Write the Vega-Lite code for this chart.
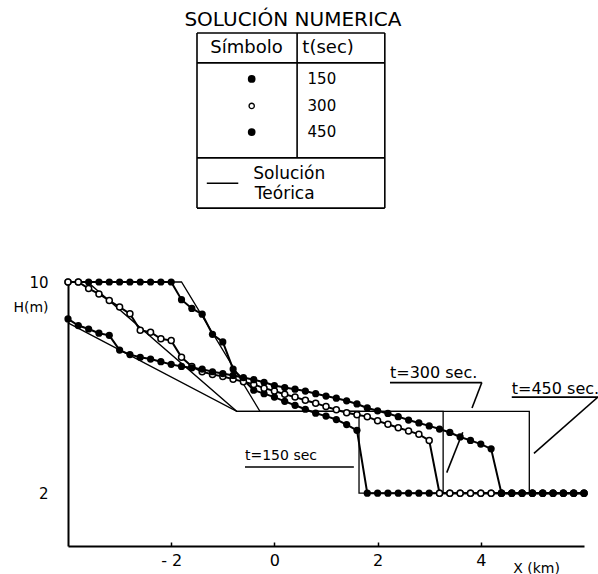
{
  "$schema": "https://vega.github.io/schema/vega-lite/v6.json",
  "width": 516,
  "height": 264,
  "autosize": {"type": "none"},
  "padding": {"left": 68, "top": 282, "right": 14, "bottom": 28},
  "background": "white",
  "config": {
    "view": {"stroke": null},
    "font": "DejaVu Sans",
    "axis": {
      "grid": false,
      "domainColor": "black",
      "domainWidth": 2,
      "tickColor": "black",
      "tickWidth": 1.5,
      "tickSize": -4,
      "labelColor": "black",
      "labelFont": "DejaVu Sans",
      "titleFont": "DejaVu Sans",
      "titleColor": "black",
      "titleFontWeight": "normal"
    },
    "text": {"font": "DejaVu Sans", "color": "black"}
  },
  "datasets": {
    "num": [
      {"t":150,"x":-4.0,"h":10},{"t":150,"x":-3.8,"h":10},{"t":150,"x":-3.6,"h":10},{"t":150,"x":-3.4,"h":10},{"t":150,"x":-3.2,"h":10},
      {"t":150,"x":-3.0,"h":10},{"t":150,"x":-2.8,"h":10},{"t":150,"x":-2.6,"h":10},{"t":150,"x":-2.4,"h":10},{"t":150,"x":-2.2,"h":10},
      {"t":150,"x":-2.0,"h":10},{"t":150,"x":-1.8,"h":9.33},{"t":150,"x":-1.6,"h":9.0},{"t":150,"x":-1.4,"h":8.78},{"t":150,"x":-1.2,"h":8.02},
      {"t":150,"x":-1.0,"h":7.73},{"t":150,"x":-0.8,"h":6.7},{"t":150,"x":-0.6,"h":6.3},{"t":150,"x":-0.4,"h":5.9},{"t":150,"x":-0.2,"h":5.77},
      {"t":150,"x":0.0,"h":5.64},{"t":150,"x":0.2,"h":5.48},{"t":150,"x":0.4,"h":5.33},{"t":150,"x":0.6,"h":5.18},{"t":150,"x":0.8,"h":5.03},
      {"t":150,"x":1.0,"h":4.92},{"t":150,"x":1.2,"h":4.79},{"t":150,"x":1.4,"h":4.6},{"t":150,"x":1.6,"h":4.38},{"t":150,"x":1.8,"h":2},
      {"t":150,"x":2.0,"h":2},{"t":150,"x":2.2,"h":2},{"t":150,"x":2.4,"h":2},{"t":150,"x":2.6,"h":2},{"t":150,"x":2.8,"h":2},
      {"t":150,"x":3.0,"h":2},{"t":150,"x":3.2,"h":2},{"t":150,"x":3.4,"h":2},{"t":150,"x":3.6,"h":2},{"t":150,"x":3.8,"h":2},
      {"t":150,"x":4.0,"h":2},{"t":150,"x":4.2,"h":2},{"t":150,"x":4.4,"h":2},{"t":150,"x":4.6,"h":2},{"t":150,"x":4.8,"h":2},
      {"t":150,"x":5.0,"h":2},{"t":150,"x":5.2,"h":2},{"t":150,"x":5.4,"h":2},{"t":150,"x":5.6,"h":2},{"t":150,"x":5.8,"h":2},
      {"t":150,"x":6.0,"h":2},

      {"t":300,"x":-4.0,"h":10},{"t":300,"x":-3.8,"h":10},{"t":300,"x":-3.6,"h":9.75},{"t":300,"x":-3.4,"h":9.55},{"t":300,"x":-3.2,"h":9.3},
      {"t":300,"x":-3.0,"h":9.05},{"t":300,"x":-2.8,"h":8.8},{"t":300,"x":-2.6,"h":8.17},{"t":300,"x":-2.4,"h":8.1},{"t":300,"x":-2.2,"h":7.85},
      {"t":300,"x":-2.0,"h":7.78},{"t":300,"x":-1.8,"h":7.15},{"t":300,"x":-1.6,"h":6.8},{"t":300,"x":-1.4,"h":6.6},{"t":300,"x":-1.2,"h":6.5},
      {"t":300,"x":-1.0,"h":6.42},{"t":300,"x":-0.8,"h":6.32},{"t":300,"x":-0.6,"h":6.22},{"t":300,"x":-0.4,"h":6.12},{"t":300,"x":-0.2,"h":5.98},
      {"t":300,"x":0.0,"h":5.87},{"t":300,"x":0.2,"h":5.75},{"t":300,"x":0.4,"h":5.64},{"t":300,"x":0.6,"h":5.52},{"t":300,"x":0.8,"h":5.41},
      {"t":300,"x":1.0,"h":5.28},{"t":300,"x":1.2,"h":5.16},{"t":300,"x":1.4,"h":5.05},{"t":300,"x":1.6,"h":4.97},{"t":300,"x":1.8,"h":4.9},
      {"t":300,"x":2.0,"h":4.74},{"t":300,"x":2.2,"h":4.61},{"t":300,"x":2.4,"h":4.48},{"t":300,"x":2.6,"h":4.36},{"t":300,"x":2.8,"h":4.23},
      {"t":300,"x":3.0,"h":4.0},{"t":300,"x":3.2,"h":2},{"t":300,"x":3.4,"h":2},{"t":300,"x":3.6,"h":2},{"t":300,"x":3.8,"h":2},
      {"t":300,"x":4.0,"h":2},{"t":300,"x":4.2,"h":2},{"t":300,"x":4.4,"h":2},{"t":300,"x":4.6,"h":2},{"t":300,"x":4.8,"h":2},
      {"t":300,"x":5.0,"h":2},{"t":300,"x":5.2,"h":2},{"t":300,"x":5.4,"h":2},{"t":300,"x":5.6,"h":2},{"t":300,"x":5.8,"h":2},
      {"t":300,"x":6.0,"h":2},

      {"t":450,"x":-4.0,"h":8.6},{"t":450,"x":-3.8,"h":8.35},{"t":450,"x":-3.6,"h":8.22},{"t":450,"x":-3.4,"h":8.06},{"t":450,"x":-3.2,"h":7.98},
      {"t":450,"x":-3.0,"h":7.42},{"t":450,"x":-2.8,"h":7.25},{"t":450,"x":-2.6,"h":7.15},{"t":450,"x":-2.4,"h":7.08},{"t":450,"x":-2.2,"h":6.98},
      {"t":450,"x":-2.0,"h":6.88},{"t":450,"x":-1.8,"h":6.8},{"t":450,"x":-1.6,"h":6.75},{"t":450,"x":-1.4,"h":6.7},{"t":450,"x":-1.2,"h":6.6},
      {"t":450,"x":-1.0,"h":6.53},{"t":450,"x":-0.8,"h":6.46},{"t":450,"x":-0.6,"h":6.38},{"t":450,"x":-0.4,"h":6.3},{"t":450,"x":-0.2,"h":6.2},
      {"t":450,"x":0.0,"h":6.08},{"t":450,"x":0.2,"h":6.0},{"t":450,"x":0.4,"h":5.94},{"t":450,"x":0.6,"h":5.87},{"t":450,"x":0.8,"h":5.77},
      {"t":450,"x":1.0,"h":5.68},{"t":450,"x":1.2,"h":5.6},{"t":450,"x":1.4,"h":5.5},{"t":450,"x":1.6,"h":5.38},{"t":450,"x":1.8,"h":5.23},
      {"t":450,"x":2.0,"h":5.12},{"t":450,"x":2.2,"h":5.02},{"t":450,"x":2.4,"h":4.9},{"t":450,"x":2.6,"h":4.77},{"t":450,"x":2.8,"h":4.66},
      {"t":450,"x":3.0,"h":4.55},{"t":450,"x":3.2,"h":4.43},{"t":450,"x":3.4,"h":4.3},{"t":450,"x":3.6,"h":4.13},{"t":450,"x":3.8,"h":4.0},
      {"t":450,"x":4.0,"h":3.86},{"t":450,"x":4.2,"h":3.68},{"t":450,"x":4.4,"h":2},{"t":450,"x":4.6,"h":2},{"t":450,"x":4.8,"h":2},
      {"t":450,"x":5.0,"h":2},{"t":450,"x":5.2,"h":2},{"t":450,"x":5.4,"h":2},{"t":450,"x":5.6,"h":2},{"t":450,"x":5.8,"h":2},
      {"t":450,"x":6.0,"h":2}
    ],
    "teo": [
      {"t":150,"o":1,"x":-4.0,"h":10},{"t":150,"o":2,"x":-1.8,"h":10},{"t":150,"o":3,"x":-0.28,"h":5.1},
      {"t":150,"o":4,"x":1.64,"h":5.1},{"t":150,"o":5,"x":1.64,"h":2},{"t":150,"o":6,"x":6.0,"h":2},
      {"t":300,"o":1,"x":-4.0,"h":10},{"t":300,"o":2,"x":-3.62,"h":10},{"t":300,"o":3,"x":-0.73,"h":5.1},
      {"t":300,"o":4,"x":3.27,"h":5.1},{"t":300,"o":5,"x":3.27,"h":2},{"t":300,"o":6,"x":6.0,"h":2},
      {"t":450,"o":1,"x":-4.0,"h":8.45},{"t":450,"o":2,"x":-0.73,"h":5.1},
      {"t":450,"o":3,"x":4.94,"h":5.1},{"t":450,"o":4,"x":4.94,"h":2},{"t":450,"o":5,"x":6.0,"h":2}
    ],
    "frame": [
      {"x":-1.5,"y":19.43,"x2":2.14,"y2":19.43},
      {"x":-1.5,"y":12.8,"x2":2.14,"y2":12.8},
      {"x":-1.5,"y":12.8,"x2":-1.5,"y2":19.43},
      {"x":2.14,"y":12.8,"x2":2.14,"y2":19.43},
      {"x":-1.5,"y":18.3,"x2":2.14,"y2":18.3},
      {"x":-1.5,"y":14.7,"x2":2.14,"y2":14.7},
      {"x":0.44,"y":14.7,"x2":0.44,"y2":19.43},
      {"x":-0.57,"y":2.99,"x2":1.54,"y2":2.99},
      {"x":2.24,"y":6.19,"x2":4.02,"y2":6.19},
      {"x":4.02,"y":6.19,"x2":3.83,"y2":5.23},
      {"x":3.65,"y":4.31,"x2":3.34,"y2":2.78},
      {"x":4.6,"y":5.64,"x2":6.27,"y2":5.64},
      {"x":6.27,"y":5.64,"x2":5.03,"y2":3.51}
    ]
  },
  "layer": [
    {
      "data": {"name": "frame"},
      "mark": {"type": "rule", "color": "black", "strokeWidth": 1.6},
      "encoding": {
        "x": {"field": "x", "type": "quantitative", "scale": {"domain": [-4, 6], "nice": false, "zero": false},
              "axis": {"values": [-2, 0, 2, 4], "labelFontSize": 16, "labelPadding": 10,
                       "labelExpr": "datum.value < 0 ? '- ' + abs(datum.value) : datum.label",
                       "title": "X (km)", "titleFontSize": 14, "titleX": 468, "titleY": 22,
                       "titleAlign": "center", "titleBaseline": "middle"}},
        "y": {"field": "y", "type": "quantitative", "scale": {"domain": [0, 10], "nice": false, "zero": false},
              "axis": {"values": [2, 10], "labelFontSize": 15, "ticks": false, "labelPadding": 20,
                       "title": "H(m)", "titleFontSize": 14, "titleAngle": 0, "titleX": -20, "titleY": 25,
                       "titleAlign": "right", "titleBaseline": "middle"}},
        "x2": {"field": "x2"},
        "y2": {"field": "y2"}
      }
    },
    {
      "data": {"values": [{"x": -1.31, "x2": -0.7, "y": 13.74}]},
      "mark": {"type": "rule", "color": "black", "strokeWidth": 1.3},
      "encoding": {
        "x": {"field": "x", "type": "quantitative"},
        "x2": {"field": "x2"},
        "y": {"field": "y", "type": "quantitative"}
      }
    },
    {
      "data": {"name": "teo"},
      "mark": {"type": "line", "color": "black", "strokeWidth": 1.3},
      "encoding": {
        "x": {"field": "x", "type": "quantitative"},
        "y": {"field": "h", "type": "quantitative"},
        "detail": {"field": "t", "type": "nominal"},
        "order": {"field": "o", "type": "quantitative"}
      }
    },
    {
      "data": {"name": "num"},
      "mark": {"type": "line", "color": "black", "strokeWidth": 2},
      "encoding": {
        "x": {"field": "x", "type": "quantitative"},
        "y": {"field": "h", "type": "quantitative"},
        "detail": {"field": "t", "type": "nominal"}
      }
    },
    {
      "data": {"name": "num"},
      "transform": [{"filter": "datum.t == 150"}],
      "mark": {"type": "point", "shape": "circle", "filled": true, "color": "black", "size": 52, "opacity": 1},
      "encoding": {
        "x": {"field": "x", "type": "quantitative"},
        "y": {"field": "h", "type": "quantitative"}
      }
    },
    {
      "data": {"name": "num"},
      "transform": [{"filter": "datum.t == 300"}],
      "mark": {"type": "point", "shape": "circle", "filled": false, "fill": "white", "stroke": "black", "strokeWidth": 1.5, "size": 36, "opacity": 1, "fillOpacity": 1},
      "encoding": {
        "x": {"field": "x", "type": "quantitative"},
        "y": {"field": "h", "type": "quantitative"}
      }
    },
    {
      "data": {"name": "num"},
      "transform": [{"filter": "datum.t == 450"}],
      "mark": {"type": "point", "shape": "circle", "filled": true, "color": "black", "size": 52, "opacity": 1},
      "encoding": {
        "x": {"field": "x", "type": "quantitative"},
        "y": {"field": "h", "type": "quantitative"}
      }
    },
    {
      "data": {"values": [{"x": -0.44, "y": 17.69}, {"x": -0.44, "y": 15.68}]},
      "mark": {"type": "point", "shape": "circle", "filled": true, "color": "black", "size": 60, "opacity": 1},
      "encoding": {
        "x": {"field": "x", "type": "quantitative"},
        "y": {"field": "y", "type": "quantitative"}
      }
    },
    {
      "data": {"values": [{"x": -0.44, "y": 16.67}]},
      "mark": {"type": "point", "shape": "circle", "filled": false, "fill": "white", "stroke": "black", "strokeWidth": 1.3, "size": 28, "opacity": 1},
      "encoding": {
        "x": {"field": "x", "type": "quantitative"},
        "y": {"field": "y", "type": "quantitative"}
      }
    },
    {
      "data": {"values": [{"label": "SOLUCIÓN NUMERICA", "x": 0.36, "y": 19.92}]},
      "mark": {"type": "text", "fontSize": 20, "align": "center", "baseline": "middle"},
      "encoding": {
        "x": {"field": "x", "type": "quantitative"},
        "y": {"field": "y", "type": "quantitative"},
        "text": {"field": "label"}
      }
    },
    {
      "data": {"values": [{"label": "Símbolo", "x": -0.54, "y": 18.86}, {"label": "t(sec)", "x": 1.04, "y": 18.86}]},
      "mark": {"type": "text", "fontSize": 18, "align": "center", "baseline": "middle"},
      "encoding": {
        "x": {"field": "x", "type": "quantitative"},
        "y": {"field": "y", "type": "quantitative"},
        "text": {"field": "label"}
      }
    },
    {
      "data": {"values": [{"label": "150", "x": 0.92, "y": 17.69}, {"label": "300", "x": 0.92, "y": 16.67}, {"label": "450", "x": 0.92, "y": 15.68}]},
      "mark": {"type": "text", "fontSize": 15, "align": "center", "baseline": "middle"},
      "encoding": {
        "x": {"field": "x", "type": "quantitative"},
        "y": {"field": "y", "type": "quantitative"},
        "text": {"field": "label"}
      }
    },
    {
      "data": {"values": [{"label": "Solución", "x": -0.41, "y": 14.09}, {"label": "Teórica", "x": -0.38, "y": 13.33}]},
      "mark": {"type": "text", "fontSize": 17, "align": "left", "baseline": "middle"},
      "encoding": {
        "x": {"field": "x", "type": "quantitative"},
        "y": {"field": "y", "type": "quantitative"},
        "text": {"field": "label"}
      }
    },
    {
      "data": {"values": [{"label": "t=150 sec", "x": -0.57, "y": 3.24}]},
      "mark": {"type": "text", "fontSize": 14, "align": "left", "baseline": "alphabetic"},
      "encoding": {
        "x": {"field": "x", "type": "quantitative"},
        "y": {"field": "y", "type": "quantitative"},
        "text": {"field": "label"}
      }
    },
    {
      "data": {"values": [{"label": "t=300 sec.", "x": 2.24, "y": 6.35}, {"label": "t=450 sec.", "x": 4.6, "y": 5.76}]},
      "mark": {"type": "text", "fontSize": 16, "align": "left", "baseline": "alphabetic"},
      "encoding": {
        "x": {"field": "x", "type": "quantitative"},
        "y": {"field": "y", "type": "quantitative"},
        "text": {"field": "label"}
      }
    }
  ]
}
